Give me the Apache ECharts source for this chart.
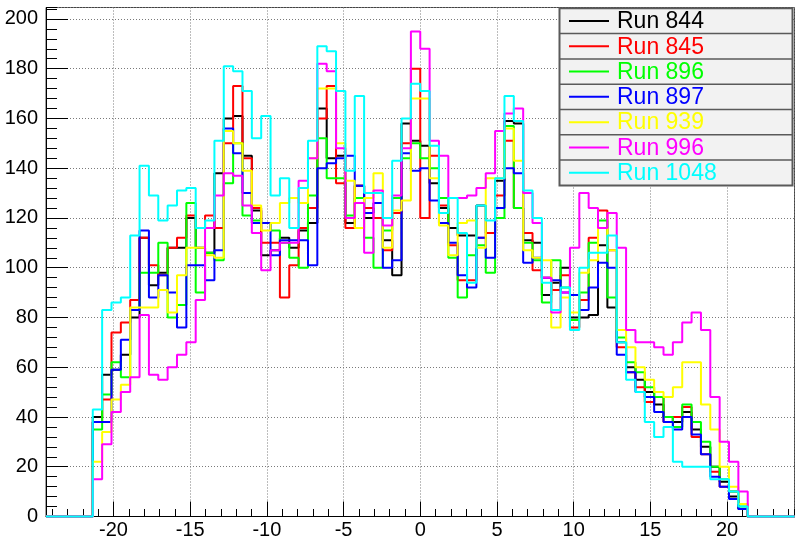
<!DOCTYPE html>
<html>
<head>
<meta charset="utf-8">
<script src="https://cdn.jsdelivr.net/npm/echarts@6/dist/echarts.min.js"></script>
<style>
html, body { margin: 0; padding: 0; background: #ffffff; }
#chart { width: 796px; height: 541px; }
</style>
</head>
<body>
<div id="chart"></div>
<script>
// Histogram binning: 80 bins over [-24.4, 24.4]; filled bins start at -21.35
const axisMin = -24.4;
const axisMax = 24.4;
const binWidth = 0.61;
const firstEdge = -21.35;
const yMax = 204.6;

const runNames = ['Run 844', 'Run 845', 'Run 896', 'Run 897', 'Run 939', 'Run 996', 'Run 1048'];
const runColors = ['#000000', '#ff0000', '#00ff00', '#0000ff', '#ffff00', '#ff00ff', '#00ffff'];

// Bin contents per run (70 filled bins each)
const run844 = [40, 57, 59, 65, 80, 112, 93, 98, 108, 108, 120, 108, 106, 138, 160, 161, 145,
  123, 105, 107, 112, 108, 115, 118, 164, 144, 145, 118, 133, 120, 120, 111, 97, 158, 151,
  149, 134, 124, 116, 113, 113, 125, 114, 135, 159, 158, 111, 110, 89, 94, 100, 80, 80, 81, 109, 84,
  70, 60, 55, 50, 45, 40, 38, 42, 35, 28, 20, 14, 8, 3];
const run845 = [38, 47, 74, 78, 87, 112, 101, 97, 108, 112, 121, 116, 121, 116, 150, 173, 144,
  124, 110, 110, 88, 101, 116, 124, 160, 173, 134, 116, 133, 124, 120, 107, 122, 150, 180,
  120, 145, 125, 109, 95, 95, 112, 114, 129, 151, 124, 114, 99, 96, 91, 97, 76, 87, 112, 123, 107,
  68, 58, 52, 46, 48, 38, 40, 44, 32, 25, 18, 12, 10, 5];
const run896 = [35, 49, 62, 56, 83, 98, 98, 110, 80, 85, 126, 90, 106, 103, 134, 150, 121,
  119, 118, 115, 110, 104, 100, 129, 152, 136, 136, 121, 128, 112, 100, 115, 128, 144, 150,
  144, 140, 128, 104, 88, 105, 109, 98, 120, 157, 124, 110, 103, 86, 103, 92, 79, 90, 110, 119, 88,
  72, 62, 58, 52, 48, 40, 36, 45, 38, 30, 20, 15, 10, 4];
const run897 = [38, 38, 59, 71, 83, 115, 88, 97, 90, 76, 101, 101, 95, 107, 156, 146, 130,
  118, 118, 105, 111, 111, 111, 101, 140, 142, 144, 145, 133, 122, 126, 100, 103, 146, 139,
  140, 127, 118, 110, 97, 92, 112, 104, 124, 140, 138, 102, 104, 96, 95, 90, 89, 83, 92, 102, 100,
  65, 58, 50, 48, 42, 38, 35, 40, 33, 25, 16, 12, 7, 3];
const run939 = [22, 34, 47, 53, 84, 84, 84, 91, 82, 97, 108, 108, 105, 104, 155, 150, 139,
  125, 115, 118, 126, 128, 126, 144, 172, 172, 150, 135, 116, 128, 138, 108, 123, 127, 168,
  168, 136, 117, 105, 118, 119, 108, 136, 136, 156, 143, 107, 104, 103, 76, 88, 82, 98, 103, 116, 107,
  75, 68, 60, 55, 50, 48, 52, 62, 62, 45, 35, 20, 12, 5];
const run996 = [15, 29, 42, 50, 56, 81, 57, 55, 60, 65, 70, 87, 116, 129, 138, 137, 125,
  114, 99, 107, 110, 110, 135, 144, 182, 179, 148, 120, 126, 106, 131, 117, 129, 148, 195,
  188, 151, 145, 128, 128, 129, 132, 138, 155, 162, 164, 130, 118, 96, 82, 90, 108, 130, 124, 116, 122,
  108, 75, 70, 70, 68, 65, 70, 78, 82, 75, 48, 30, 22, 10];
const run1048 = [43, 83, 86, 88, 113, 141, 129, 119, 125, 131, 132, 116, 119, 151, 181, 179, 171,
  152, 161, 129, 136, 116, 132, 151, 189, 187, 171, 139, 169, 130, 130, 120, 143, 160, 174,
  171, 149, 122, 128, 114, 94, 125, 119, 136, 169, 159, 131, 120, 94, 83, 92, 75, 100, 106, 106, 113,
  70, 55, 50, 38, 32, 36, 22, 20, 20, 20, 15, 15, 10, 4];

const runValues = [run844, run845, run896, run897, run939, run996, run1048];

// Turn bin contents into an outline: each point is a bin's low edge and its content
function outline(values) {
  const pts = [[axisMin, 0]];
  values.forEach(function (v, i) { pts.push([firstEdge + i * binWidth, v]); });
  pts.push([firstEdge + values.length * binWidth, 0]);
  pts.push([axisMax, 0]);
  return pts;
}

const fontFamily = 'Liberation Sans, Arial, Helvetica, sans-serif';
const gridStyle = { color: '#7a7a7a', width: 1, type: [1, 2] };

const series = runValues.map(function (vals, i) {
  return {
    name: runNames[i],
    type: 'line',
    step: 'end',
    data: outline(vals),
    showSymbol: false,
    symbol: 'none',
    clip: false,
    lineStyle: { color: runColors[i], width: 2 },
    itemStyle: { color: runColors[i] },
    z: 3 + i
  };
});

// Legend box drawn as a framed table of entries
const legendLeft = 559.5, legendTop = 8.3, legendRight = 792.5, rowH = 25.3;
const legendGraphics = [{
  type: 'rect',
  shape: { x: legendLeft, y: legendTop, width: legendRight - legendLeft, height: rowH * runNames.length },
  style: { fill: '#f2f2f2', stroke: '#5a5a5a', lineWidth: 2 },
  z: 100
}];
runNames.forEach(function (name, i) {
  const cy = legendTop + rowH * (i + 0.5);
  if (i > 0) {
    legendGraphics.push({
      type: 'line',
      shape: { x1: legendLeft, y1: legendTop + rowH * i, x2: legendRight, y2: legendTop + rowH * i },
      style: { stroke: '#5a5a5a', lineWidth: 1.5 },
      z: 101
    });
  }
  legendGraphics.push({
    type: 'line',
    shape: { x1: 569, y1: cy, x2: 609, y2: cy },
    style: { stroke: runColors[i], lineWidth: 2 },
    z: 102
  });
  legendGraphics.push({
    type: 'text',
    x: 617, y: cy + 1,
    style: { text: name, fill: runColors[i], font: '23px ' + fontFamily, verticalAlign: 'middle', align: 'left' },
    z: 102
  });
});

const chart = echarts.init(document.getElementById('chart'), null, { renderer: 'canvas' });
chart.setOption({
  animation: false,
  backgroundColor: '#ffffff',
  grid: {
    left: 46, right: 1.5, top: 7.5, bottom: 24.5,
    show: true, borderColor: '#444', borderWidth: 1,
    outerBoundsMode: 'none'
  },
  xAxis: [{
    type: 'value', min: axisMin, max: axisMax, position: 'bottom',
    splitNumber: 10, minInterval: 5, maxInterval: 5,
    axisLine: { show: true, onZero: false, lineStyle: { color: '#000', width: 1 } },
    axisTick: { show: true, inside: true, length: 15, lineStyle: { color: '#000', width: 1 } },
    axisLabel: { show: true, showMinLabel: false, showMaxLabel: false, color: '#000', fontSize: 20, fontFamily: fontFamily, margin: 4 },
    splitLine: { show: true, lineStyle: gridStyle }
  }, {
    type: 'value', min: axisMin, max: axisMax, position: 'bottom',
    splitNumber: 49, minInterval: 1, maxInterval: 1,
    axisLine: { show: false, onZero: false },
    axisTick: { show: true, inside: true, length: 7.5, lineStyle: { color: '#000', width: 1 } },
    axisLabel: { show: false },
    splitLine: { show: false }
  }],
  yAxis: [{
    type: 'value', min: 0, max: yMax, interval: 20, position: 'left',
    axisLine: { show: true, onZero: false, lineStyle: { color: '#000', width: 1 } },
    axisTick: { show: true, inside: true, length: 22, lineStyle: { color: '#000', width: 1 } },
    axisLabel: { show: true, showMaxLabel: false, color: '#000', fontSize: 20, fontFamily: fontFamily, margin: 8 },
    splitLine: { show: true, lineStyle: gridStyle }
  }, {
    type: 'value', min: 0, max: yMax, interval: 4, position: 'left',
    axisLine: { show: false, onZero: false },
    axisTick: { show: true, inside: true, length: 11, lineStyle: { color: '#000', width: 1 } },
    axisLabel: { show: false },
    splitLine: { show: false }
  }],
  series: series,
  graphic: legendGraphics
});
</script>
</body>
</html>
